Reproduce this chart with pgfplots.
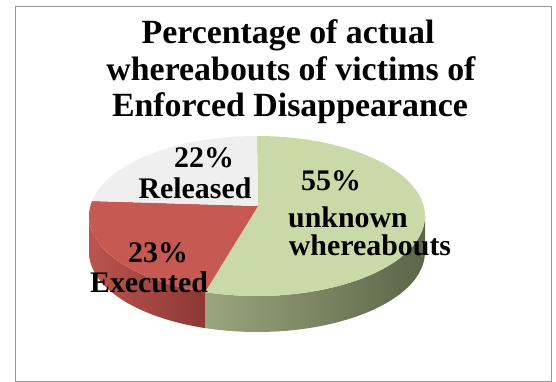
\documentclass[border=0pt]{standalone}
\usepackage{pgfplots}
\pgfplotsset{compat=1.18}
\usepackage{fontspec}
\setmainfont{Liberation Serif}
\definecolor{gtop}{RGB}{201,217,168}
\definecolor{rtop}{RGB}{198,90,83}
\definecolor{wtop}{RGB}{239,239,239}
\definecolor{gsideL}{RGB}{155,165,125}
\definecolor{gsideR}{RGB}{92,102,72}
\definecolor{rsideL}{RGB}{188,84,78}
\definecolor{rsideR}{RGB}{140,56,52}
\definecolor{frame}{RGB}{150,150,150}
\begin{document}
\begin{tikzpicture}
% values (percent)
\def\vA{55}% unknown whereabouts
\def\vB{23}% executed
\def\vC{22}% released
\pgfmathsetmacro{\aA}{90}
\pgfmathsetmacro{\aB}{90-3.6*\vA}
\pgfmathsetmacro{\aC}{\aB-3.6*\vB}
\pgfmathsetmacro{\aD}{\aC-3.6*\vC}
\def\cx{257}\def\cy{216}\def\rx{168}\def\ry{80}\def\dd{36}
\def\px{258}\def\py{206}
\begin{axis}[
  width=556bp, height=382bp, scale only axis,
  xmin=0, xmax=556, ymin=0, ymax=382, y dir=reverse,
  hide axis, clip=false]
\path (axis cs:0,0) rectangle (axis cs:556,382);
\draw[frame, line width=1bp] (axis cs:15.5,6.5) rectangle (axis cs:551.5,381);
% red side (180 .. aB+360)
\shade[left color=rsideL, right color=rsideR]
  (axis cs:{\cx-\rx},{\cy}) arc[start angle=180, end angle={\aB+360}, x radius=\rx bp, y radius=\ry bp]
  -- ++(0,-\dd bp) arc[start angle={\aB+360}, end angle=180, x radius=\rx bp, y radius=\ry bp] -- cycle;
% green side (aB .. 0)
\shade[left color=gsideL, right color=gsideR]
  (axis cs:{\cx+\rx*cos(\aB)},{\cy-\ry*sin(\aB)}) arc[start angle=\aB, end angle=0, x radius=\rx bp, y radius=\ry bp]
  -- ++(0,-\dd bp) arc[start angle=0, end angle=\aB, x radius=\rx bp, y radius=\ry bp] -- cycle;
% top faces
\fill[gtop] (axis cs:\px,\py) -- (axis cs:{\cx+\rx*cos(\aA)},{\cy-\ry*sin(\aA)})
  arc[start angle=\aA, end angle=\aB, x radius=\rx bp, y radius=\ry bp] -- cycle;
\fill[rtop] (axis cs:\px,\py) -- (axis cs:{\cx+\rx*cos(\aB)},{\cy-\ry*sin(\aB)})
  arc[start angle=\aB, end angle=\aC, x radius=\rx bp, y radius=\ry bp] -- cycle;
\fill[wtop] (axis cs:\px,\py) -- (axis cs:{\cx+\rx*cos(\aC)},{\cy-\ry*sin(\aC)})
  arc[start angle=\aC, end angle=\aD, x radius=\rx bp, y radius=\ry bp] -- cycle;
% title
\begin{scope}[every node/.style={font=\bfseries\fontsize{34}{40}\selectfont, anchor=base, inner sep=0pt}]
\node at (axis cs:288,43) {Percentage of actual};
\node at (axis cs:291,80) {whereabouts of victims of};
\node at (axis cs:290,116) {Enforced Disappearance};
\end{scope}
% labels
\begin{scope}[every node/.style={font=\bfseries\fontsize{30}{36}\selectfont, anchor=base, inner sep=0pt}]
\node at (axis cs:204,167) {\vC\%};
\node at (axis cs:195,198) {Released};
\node at (axis cs:158,262) {\vB\%};
\node at (axis cs:149,292) {Executed};
\node at (axis cs:331,190) {\vA\%};
\node at (axis cs:348,227) {unknown};
\node at (axis cs:370,255) {whereabouts};
\end{scope}
\end{axis}
\end{tikzpicture}
\end{document}
